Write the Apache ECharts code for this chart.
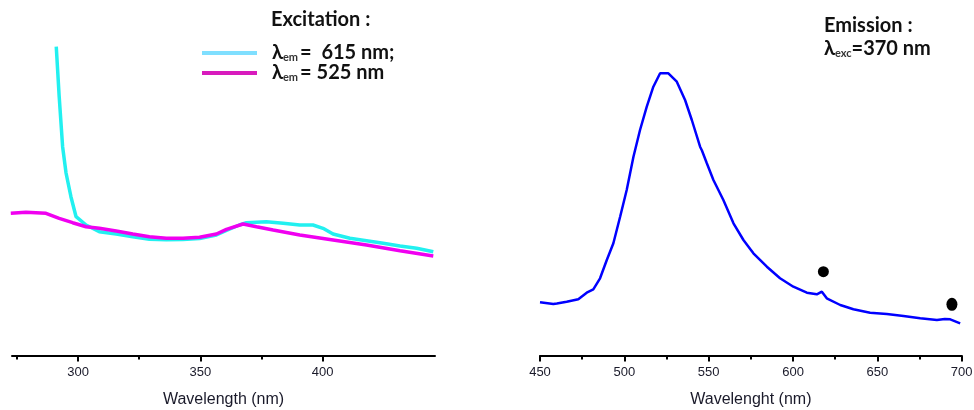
<!DOCTYPE html>
<html><head><meta charset="utf-8">
<script src="https://cdn.jsdelivr.net/npm/echarts@6/dist/echarts.min.js"></script>
<style>html,body{margin:0;padding:0;background:#fff}#c{width:974px;height:410px}</style>
</head><body><div id="c"></div>
<script>
// Excitation spectra (wavelength nm, intensity a.u.)
const excWl615 = [291.1,292.3,293.7,295.1,297.1,299.2,303.3,308.7,315.6,322.4,329.2,336.1,342.9,349.7,356.6,360.7,366.0,368.9,377.0,383.9,390.7,396.1,400.2,404.3,411.2,418.0,424.8,431.7,438.5,445.3];
const excI615  = [308.8,258.8,208.8,182.5,158.8,138.8,130.5,123.8,121.5,118.8,116.2,115.8,116.0,117.0,120.5,125.0,130.5,132.8,133.8,132.2,130.5,130.5,127.2,121.5,117.2,114.8,112.2,109.5,107.2,103.8];
const excWl525 = [272.5,278.7,286.9,292.3,297.8,303.3,308.7,315.6,322.4,329.2,336.1,342.9,349.7,356.6,360.7,367.5,373.0,379.8,390.7,404.3,418.0,431.7,445.3];
const excI525  = [142.2,143.2,142.2,137.2,132.8,128.8,127.2,124.5,121.5,118.8,117.2,117.2,118.2,121.5,126.2,131.5,128.8,125.5,120.5,115.5,110.5,104.8,99.5];
// Emission spectrum
const emWl = [450,457.9,460,465.8,472.7,477.7,481.6,485.6,489.6,493.5,497.5,501.4,505.4,509.3,513.3,517.2,521.2,526.1,531.1,536,540,544.9,546,548.9,552.8,558.7,564.7,570.6,576.5,584.5,592.3,600.2,608.2,614.1,617.1,620,628,635.8,645.7,655.6,665.5,675.4,685.3,690,693.2,699.1];
const emI  = [53.2,51.5,52.0,53.8,56.2,62.8,66.2,77.2,95.5,112.2,138.8,165.5,198.8,225.5,248.8,268.8,282.2,282.2,273.8,255.5,235.5,208.8,205.0,192.2,175.5,155.5,132.2,115.5,102.2,88.8,77.2,68.8,62.8,61.2,63.8,57.2,50.5,46.2,42.8,41.5,39.5,37.2,35.5,36.5,36.2,32.2];
// Marker dots on emission panel
const dotWl = [618, 694.2];
const dotI  = [83.8, 51.2];
const leftTicksMajor = [300,350,400];
const leftTicksMinor = [275,325,375];
const legendNames = ['λem = 615 nm;','λem = 525 nm'];

const pair = (xs, ys) => xs.map((x,i)=>[x, ys[i]]);
const chart = echarts.init(document.getElementById('c'));
const axisFont = {fontFamily:'Liberation Sans', fontSize:13, color:'#1a1a2a'};
const nameFont = {fontFamily:'Liberation Sans', fontSize:16, color:'#1a1a2a'};
chart.setOption({
  animation:false,
  backgroundColor:'#fff',
  grid:[
    {left:12, right:539, top:45.5, bottom:54.5, outerBoundsMode:'none', containLabel:false},
    {left:540, right:12.3, top:45.5, bottom:54.5, outerBoundsMode:'none', containLabel:false}
  ],
  xAxis:[
    {gridIndex:0, type:'value', position:'bottom', min:273, max:446, splitLine:{show:false},
     axisLine:{onZero:false, lineStyle:{color:'#000', width:2}},
     axisTick:{customValues:leftTicksMajor, length:6, lineStyle:{color:'#000', width:2}},
     axisLabel:{customValues:leftTicksMajor, margin:10, ...axisFont},
     name:'Wavelength (nm)', nameLocation:'middle', nameGap:36, nameTextStyle:nameFont},
    {gridIndex:0, type:'value', position:'bottom', min:273, max:446, splitLine:{show:false},
     axisLine:{show:false, onZero:false},
     axisTick:{customValues:leftTicksMinor, length:4, lineStyle:{color:'#000', width:2}},
     axisLabel:{show:false}},
    {gridIndex:1, type:'value', position:'bottom', min:450, max:700, interval:50, splitLine:{show:false},
     axisLine:{onZero:false, lineStyle:{color:'#000', width:2}},
     axisTick:{length:6, lineStyle:{color:'#000', width:2}},
     minorTick:{show:true, splitNumber:2, length:4, lineStyle:{color:'#000', width:2}},
     axisLabel:{margin:10, ...axisFont},
     name:'Wavelenght (nm)', nameLocation:'middle', nameGap:36, nameTextStyle:nameFont}
  ],
  yAxis:[
    {gridIndex:0, type:'value', min:0, max:310, show:false},
    {gridIndex:1, type:'value', min:0, max:310, show:false}
  ],
  legend:{
    orient:'vertical', left:197, top:38, itemWidth:55, itemHeight:4, itemGap:0,
    icon:'rect',
    data:[
      {name:legendNames[0], itemStyle:{color:'#7fdfff'}},
      {name:legendNames[1], itemStyle:{color:'#d81bbd'}}
    ],
    formatter:function(n){
      return n===legendNames[0] ? '{l|λ}{s|em}{l|=  615 nm;}' : '{l|λ}{s|em}{l|= 525 nm}';
    },
    textStyle:{
      padding:[0,0,0,10],
      rich:{
        l:{fontFamily:'Lato', fontWeight:'bold', fontSize:20, color:'#111'},
        s:{fontFamily:'Lato', fontWeight:'bold', fontSize:11, color:'#333', padding:[9,2,0,0]}
      }
    }
  },
  graphic:[
    {type:'text', left:271, top:10, style:{text:'Excitation :', font:'bold 20px Lato', fill:'#111'}},
    {type:'text', left:824, top:16, style:{text:'Emission :', font:'bold 20px Lato', fill:'#111'}},
    {type:'text', left:824, top:39, style:{
      text:'{l|λ}{s|exc}{l|=370 nm}',
      rich:{
        l:{fontFamily:'Lato', fontWeight:'bold', fontSize:20, fill:'#111'},
        s:{fontFamily:'Lato', fontWeight:'bold', fontSize:11, fill:'#333', padding:[9,0,0,0]}
      }}}
  ],
  series:[
    {name:legendNames[0], type:'line', xAxisIndex:0, yAxisIndex:0, data:pair(excWl615, excI615),
     showSymbol:false, lineStyle:{color:'#22f0f0', width:3.5}, itemStyle:{color:'#7fdfff'}},
    {name:legendNames[1], type:'line', xAxisIndex:0, yAxisIndex:0, data:pair(excWl525, excI525),
     showSymbol:false, lineStyle:{color:'#f000f0', width:3.5}, itemStyle:{color:'#d81bbd'}},
    {name:'Emission', type:'line', xAxisIndex:2, yAxisIndex:1, data:pair(emWl, emI),
     showSymbol:false, lineStyle:{color:'#0000ff', width:2.5}},
    {name:'Marks', type:'scatter', xAxisIndex:2, yAxisIndex:1, data:[
       {value:[dotWl[0], dotI[0]], symbolSize:[11,11]},
       {value:[dotWl[1], dotI[1]], symbolSize:[11,13]}],
     itemStyle:{color:'#000', opacity:1}}
  ]
});
</script></body></html>
